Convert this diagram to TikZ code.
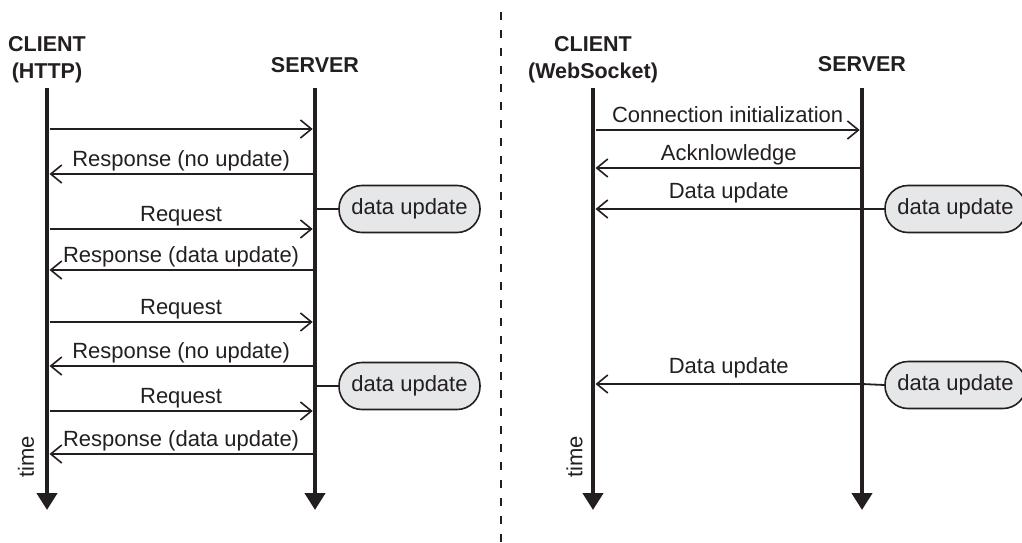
\documentclass[tikz,border=0pt]{standalone}
\usepackage{fontspec}
\setmainfont{Liberation Sans}
\usetikzlibrary{arrows.meta}
\definecolor{ink}{HTML}{231F20}
\definecolor{bubblefill}{HTML}{E6E7E8}
\begin{document}
\begin{tikzpicture}[x=1pt,y=-1pt,
  every node/.style={text=ink, inner sep=0pt},
  lbl/.style={font=\fontsize{22}{26}\selectfont, anchor=base, yshift=8pt},
  hdr/.style={font=\bfseries\fontsize{21.5}{26}\selectfont, anchor=base},
  lifeline/.style={draw=ink, line width=4.5pt, -{Triangle[width=20pt,length=17pt]}},
  msg/.style={draw=ink, line width=1.6pt, -{Straight Barb[width=18pt,length=11pt,line width=1.6pt]}},
  tie/.style={draw=ink, line width=1.8pt},
  bubble/.style={draw=ink, fill=bubblefill, line width=1.6pt, rounded corners=23pt,
    minimum width=141pt, minimum height=47pt, font=\fontsize{22}{26}\selectfont},
  divider/.style={draw=ink, line width=2.4pt, dash pattern=on 8pt off 10pt},
  timelbl/.style={font=\fontsize{22}{26}\selectfont, rotate=90}]
\useasboundingbox (0,0) rectangle (1022,543);

% ---------- HTTP polling ----------
\node[hdr] (hcH1) at (47,52) {CLIENT};
\node[hdr] (hcH2) at (47,78) {(HTTP)};
\node[hdr] (hsH) at (315,73) {SERVER};

\coordinate (hcT) at (47,88);  \coordinate (hcB) at (47,510);
\coordinate (hsT) at (315,88); \coordinate (hsB) at (315,510);
\draw[lifeline] (hcT) -- (hcB);
\draw[lifeline] (hsT) -- (hsB);

\foreach \n/\y in {1/129,2/174,3/229,4/270,5/322,6/366,7/411,8/454} {
  \coordinate (hc\n) at (49.5,\y);
  \coordinate (hs\n) at (312.7,\y);
}
\draw[msg] (hc1) -- (hs1);
\draw[msg] (hs2) -- node[lbl] {Response (no update)} (hc2);
\draw[msg] (hc3) -- node[lbl] {Request} (hs3);
\draw[msg] (hs4) -- node[lbl] {Response (data update)} (hc4);
\draw[msg] (hc5) -- node[lbl] {Request} (hs5);
\draw[msg] (hs6) -- node[lbl] {Response (no update)} (hc6);
\draw[msg] (hc7) -- node[lbl] {Request} (hs7);
\draw[msg] (hs8) -- node[lbl] {Response (data update)} (hc8);

\node[bubble] (hu1) at (409.5,209) {data update};
\node[bubble] (hu2) at (409.5,386) {data update};
\coordinate (hsu1) at (315,209);
\coordinate (hsu2) at (315,386);
\draw[tie] (hsu1) -- (hu1.west);
\draw[tie] (hsu2) -- (hu2.west);

\node[timelbl] (ht) at (26,457) {time};

% ---------- divider ----------
\coordinate (divT) at (501,12);
\coordinate (divB) at (501,543);
\draw[divider] (divT) -- (divB);

% ---------- WebSocket ----------
\node[hdr] (wcH1) at (593,52) {CLIENT};
\node[hdr] (wcH2) at (593,78) {(WebSocket)};
\node[hdr] (wsH) at (862,71) {SERVER};

\coordinate (wcT) at (593,88);  \coordinate (wcB) at (593,510);
\coordinate (wsT) at (862,88);  \coordinate (wsB) at (862,510);
\draw[lifeline] (wcT) -- (wcB);
\draw[lifeline] (wsT) -- (wsB);

\foreach \n/\y in {1/130,2/168,3/209,4/384} {
  \coordinate (wc\n) at (595.5,\y);
  \coordinate (ws\n) at (859.7,\y);
  \coordinate (wl\n) at (862,\y);
}
\draw[msg] (wc1) -- node[lbl] {Connection initialization} (ws1);
\draw[msg] (wl2) -- node[lbl] {Acknlowledge} (wc2);

\node[bubble] (wu1) at (955.5,209) {data update};
\node[bubble] (wu2) at (955.5,385) {data update};
\draw[tie] (wu1.west) -- (wl3);
\draw[tie] (wu2.west) -- (wl4);
\draw[msg] (wl3) -- node[lbl, yshift=3pt] {Data update} (wc3);
\draw[msg] (wl4) -- node[lbl, yshift=3pt] {Data update} (wc4);

\node[timelbl] (wt) at (574.5,457) {time};
\end{tikzpicture}
\end{document}
